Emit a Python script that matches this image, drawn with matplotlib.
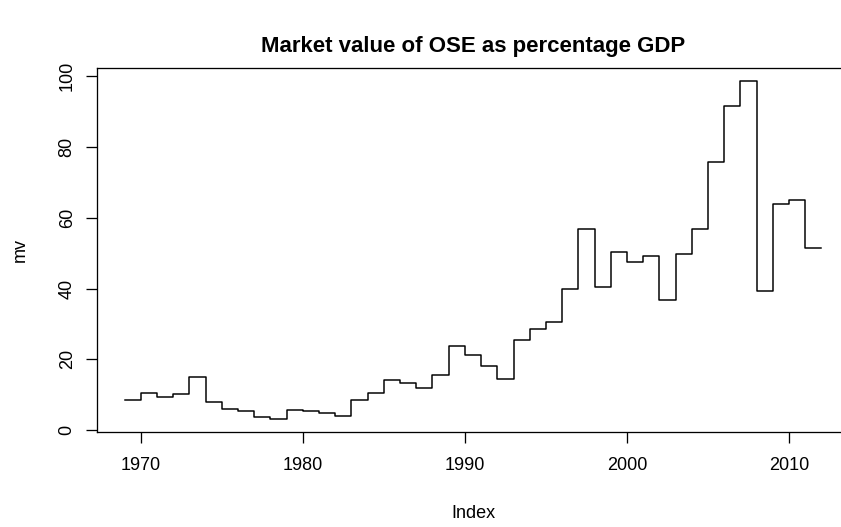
import matplotlib
matplotlib.use("Agg")
import matplotlib.pyplot as plt

# -------- data --------
years = list(range(1969, 2013))
mv = [8.4, 10.5, 9.5, 10.1, 15.1, 7.9, 5.9, 5.5, 3.6, 3.2,
      5.8, 5.3, 4.8, 4.0, 8.4, 10.5, 14.1, 13.4, 12.0, 15.7,
      23.9, 21.2, 18.0, 14.4, 25.5, 28.7, 30.6, 39.9, 56.7, 40.3,
      50.3, 47.5, 49.2, 36.8, 49.8, 56.9, 75.7, 91.5, 98.5, 39.4,
      63.9, 64.9, 51.4, 51.4]
xticks = [1970, 1980, 1990, 2000, 2010]
yticks = [0, 20, 40, 60, 80, 100]

plt.rcParams['font.family'] = ['Liberation Sans', 'DejaVu Sans']

W, H = 841, 527
fig = plt.figure(figsize=(W / 72, H / 72), dpi=72)
# R style box, right edge falls just outside the picture
left, right, top, bottom = 96.7, 849.3, 68.0, 432.3
ax = fig.add_axes([left / W, 1 - bottom / H, (right - left) / W, (bottom - top) / H])

ax.step(years, mv, where='post', color='black', lw=1.5)

# R pads the data range by 4%
xr = years[-1] - years[0]
yr = max(mv) - min(mv)
ax.set_xlim(years[0] - 0.04 * xr, years[-1] + 0.04 * xr)
ax.set_ylim(min(mv) - 0.04 * yr, max(mv) + 0.04 * yr)

ax.set_xticks(xticks)
ax.set_yticks(yticks)
ax.tick_params(direction='out', length=11, width=1.3, labelsize=18)
ax.tick_params(axis='x', pad=14)
ax.tick_params(axis='y', pad=10)
for lab in ax.get_yticklabels():
    lab.set_rotation(90)
    lab.set_va('center')
for s in ax.spines.values():
    s.set_linewidth(1.3)

ax.set_xlabel("Index", fontsize=18, labelpad=31)
ax.set_ylabel("mv", fontsize=18, labelpad=30)
ax.set_title("Market value of OSE as percentage GDP", fontsize=22.2,
             fontweight='bold', pad=16)

fig.savefig("out.png", dpi=72)
